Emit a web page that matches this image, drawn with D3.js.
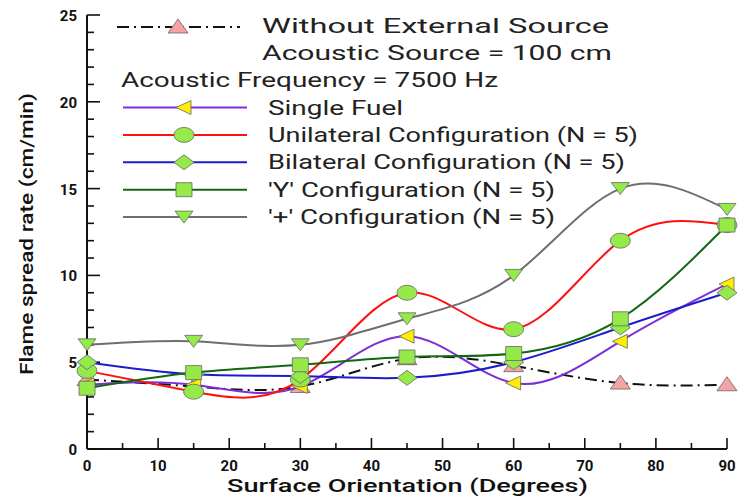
<!DOCTYPE html>
<html><head><meta charset="utf-8">
<script src="https://cdn.jsdelivr.net/npm/d3@7"></script>
<style>
html,body{margin:0;padding:0;background:#fff;}
svg{display:block;}
text{font-family:Roboto,"Noto Sans",sans-serif;}
</style></head>
<body>
<svg id="c" width="742" height="497"></svg>
<script>
// ---------- data ----------
const angles = [0, 15, 30, 45, 60, 75, 90];
const noSource   = [4.0, 3.6, 3.6, 5.2, 4.8, 3.8, 3.7];
const singleFuel = [3.7, 3.7, 3.6, 6.5, 3.8, 6.2, 9.5];
const unilateral = [4.5, 3.3, 4.0, 9.0, 6.9, 12.0, 12.9];
const bilateral  = [5.0, 4.3, 4.2, 4.1, 5.0, 7.0, 9.0];
const yConfig    = [3.5, 4.4, 4.85, 5.3, 5.5, 7.5, 12.9];
const plusConfig = [6.0, 6.2, 6.0, 7.5, 10.0, 15.0, 13.8];
const xTicks = [0, 10, 20, 30, 40, 50, 60, 70, 80, 90];
const yTicks = [0, 5, 10, 15, 20, 25];
const seriesNames = ["Without External Source", "Single Fuel", "Unilateral Configuration (N = 5)",
  "Bilateral Configuration (N = 5)", "'Y' Configuration (N = 5)", "'+' Configuration (N = 5)"];
const infoLines = ["Acoustic Source = 100 cm", "Acoustic Frequency = 7500 Hz"];
const xTitle = "Surface Orientation (Degrees)";
const yTitle = "Flame spread rate (cm/min)";

// ---------- layout ----------
const svg = d3.select("#c");
const L = 87, R = 727, T = 15, B = 449;
const x = d3.scaleLinear().domain([0, 90]).range([L, R]);
const y = d3.scaleLinear().domain([0, 25]).range([B, T]);

const series = [
  {name: seriesNames[0], vals: noSource, color: "#111", dash: "12,5,2,5", marker: "triUp", fill: "#f5a3a3"},
  {name: seriesNames[1], vals: singleFuel, color: "#7b2fd8", marker: "triLeft", fill: "#ffee00"},
  {name: seriesNames[2], vals: unilateral, color: "#ff1010", marker: "circle", fill: "#95ea4a"},
  {name: seriesNames[3], vals: bilateral, color: "#1c1ccc", marker: "diamond", fill: "#95ea4a"},
  {name: seriesNames[4], vals: yConfig, color: "#106810", marker: "square", fill: "#95ea4a"},
  {name: seriesNames[5], vals: plusConfig, color: "#6e6e6e", marker: "triDown", fill: "#95ea4a"}
];

function markerPath(type) {
  switch (type) {
    case "triUp":   return "M0,-8L10,6L-10,6Z";
    case "triDown": return "M0,6L-9,-6L9,-6Z";
    case "triLeft": return "M-8,0L7,-7L7,7Z";
    case "circle":  return "M-10,0A10,7.5 0 1,0 10,0A10,7.5 0 1,0 -10,0Z";
    case "diamond": return "M-10,0L0,-7.5L10,0L0,7.5Z";
    case "square":  return "M-8,-7H8V7H-8Z";
  }
}

// ---------- axes ----------
const ax = svg.append("g");
ax.append("line").attr("x1", L).attr("x2", R).attr("y1", B).attr("y2", B).attr("stroke", "#111").attr("stroke-width", 2);
ax.append("line").attr("x1", L).attr("x2", L).attr("y1", T).attr("y2", B).attr("stroke", "#111").attr("stroke-width", 2);
d3.range(0, 91, 5).forEach(v => {
  const major = v % 10 === 0;
  ax.append("line").attr("x1", x(v)).attr("x2", x(v)).attr("y1", B).attr("y2", B - (major ? 11 : 6))
    .attr("stroke", "#111").attr("stroke-width", 1.6);
});
d3.range(0, 26, 1).forEach(v => {
  const major = v % 5 === 0;
  ax.append("line").attr("x1", L).attr("x2", L + (major ? 13 : 7)).attr("y1", y(v)).attr("y2", y(v))
    .attr("stroke", "#111").attr("stroke-width", 1.6);
});
xTicks.forEach(v => {
  ax.append("text").attr("x", x(v)).attr("y", 471).attr("text-anchor", "middle")
    .attr("font-family", "'DejaVu Sans',sans-serif").attr("font-weight", "bold").attr("font-size", 15)
    .attr("fill", "#111").text(v);
});
yTicks.forEach(v => {
  ax.append("text").attr("x", 77).attr("y", y(v) + 6).attr("text-anchor", "end")
    .attr("font-family", "'DejaVu Sans',sans-serif").attr("font-weight", "bold").attr("font-size", 15)
    .attr("fill", "#111").text(v);
});

function fitText(sel, w) {
  sel.attr("textLength", w).attr("lengthAdjust", "spacingAndGlyphs");
  return sel;
}

fitText(svg.append("text").attr("x", 227).attr("y", 492).attr("font-size", 19).attr("font-weight", 500)
  .attr("fill", "#111").text(xTitle), 361);
fitText(svg.append("text").attr("transform", "translate(33,375) rotate(-90)").attr("font-size", 19)
  .attr("font-weight", 500).attr("fill", "#111").text(yTitle), 282);

// ---------- series ----------
const line = d3.line().x((d, i) => x(angles[i])).y(d => y(d)).curve(d3.curveNatural);
const plot = svg.append("g");
series.forEach(s => {
  plot.append("path").datum(s.vals).attr("d", line).attr("fill", "none")
    .attr("stroke", s.color).attr("stroke-width", 2).attr("stroke-dasharray", s.dash || null);
  plot.selectAll(null).data(s.vals).enter().append("path")
    .attr("d", markerPath(s.marker))
    .attr("transform", (d, i) => `translate(${x(angles[i])},${y(d)})`)
    .attr("fill", s.fill).attr("stroke", "#666").attr("stroke-width", 0.8);
});

// ---------- legend ----------
const lg = svg.append("g");
const legendText = (txt, tx, ty, w) => fitText(lg.append("text").attr("x", tx).attr("y", ty)
  .attr("font-size", 20).attr("fill", "#222").text(txt), w);

lg.append("line").attr("x1", 117).attr("x2", 240).attr("y1", 27).attr("y2", 27)
  .attr("stroke", series[0].color).attr("stroke-width", 2).attr("stroke-dasharray", series[0].dash);
lg.append("path").attr("d", markerPath(series[0].marker)).attr("transform", "translate(178,27)")
  .attr("fill", series[0].fill).attr("stroke", "#666").attr("stroke-width", 0.8);
legendText(series[0].name, 262, 33, 347);
legendText(infoLines[0], 262, 60, 350);
legendText(infoLines[1], 121, 87, 377);

const rowW = [135, 370, 357, 287, 287];
series.slice(1).forEach((s, i) => {
  const cy = 107.5 + i * 27.4;
  lg.append("line").attr("x1", 123).attr("x2", 247).attr("y1", cy).attr("y2", cy)
    .attr("stroke", s.color).attr("stroke-width", 2);
  lg.append("path").attr("d", markerPath(s.marker)).attr("transform", `translate(184,${cy})`)
    .attr("fill", s.fill).attr("stroke", "#666").attr("stroke-width", 0.8);
  legendText(s.name, 268, cy + 7, rowW[i]);
});
</script>
</body></html>
